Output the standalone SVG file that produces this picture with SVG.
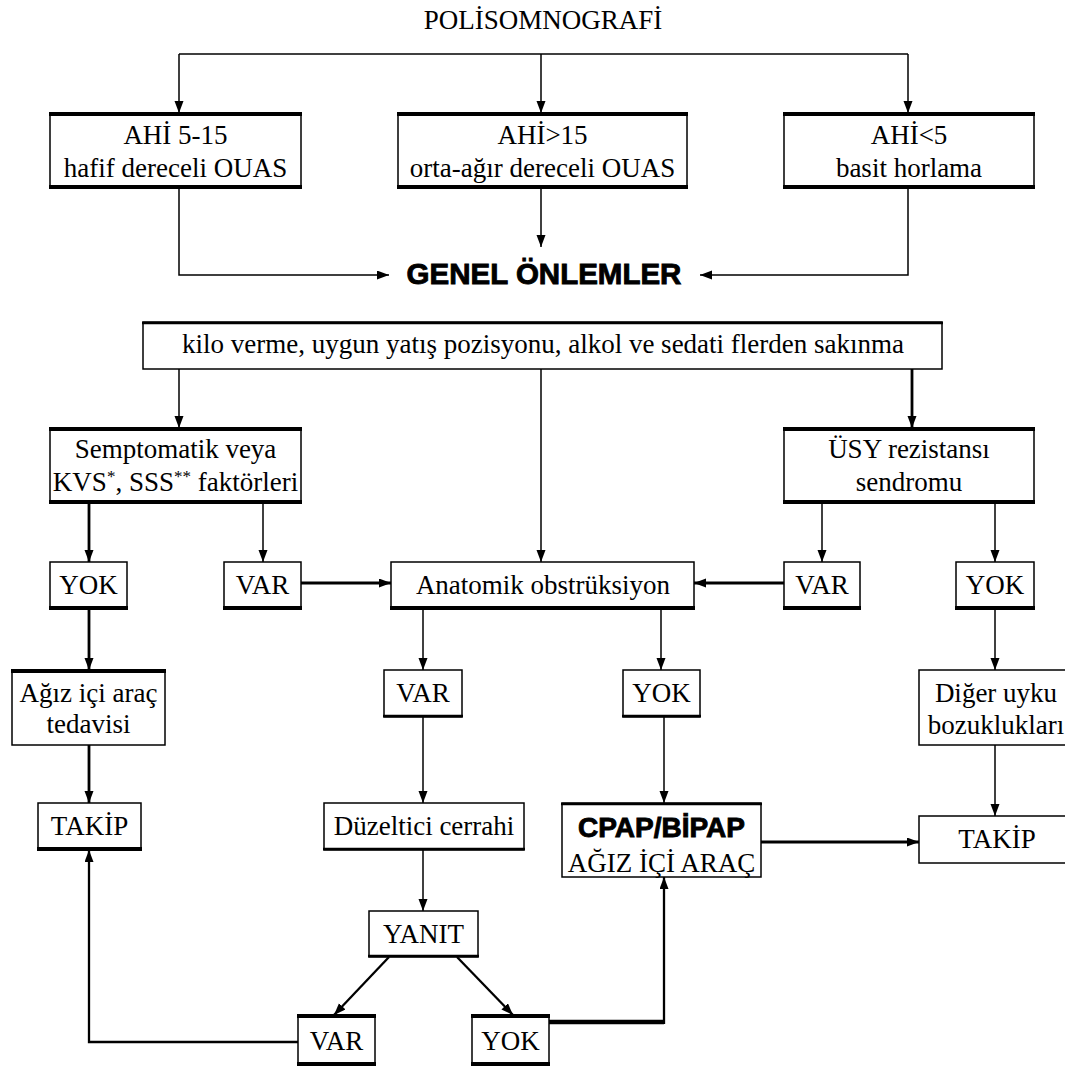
<svg xmlns="http://www.w3.org/2000/svg" width="1065" height="1068" viewBox="0 0 1065 1068">
<defs>
<marker id="ah" markerUnits="userSpaceOnUse" markerWidth="13" markerHeight="10" refX="12" refY="4.5" orient="auto">
<path d="M0,0 L12,4.5 L0,9 Z" fill="#000"/>
</marker>
</defs>
<style>
.bx{fill:#fff;stroke:#000;stroke-width:1.5}
.tb{stroke:#000;stroke-width:4}
.md{stroke:#000;stroke-width:2.5}
.t{font-family:"Liberation Serif","Times New Roman",serif;font-size:27px;fill:#000;text-anchor:middle}
.b{font-family:"Liberation Sans",Arial,sans-serif;font-weight:900;fill:#000;stroke:#000;stroke-width:0.9;text-anchor:middle}
.c{fill:none;stroke:#000;stroke-width:1.5}
.k{fill:none;stroke:#000;stroke-width:2.8}
.m{fill:none;stroke:#000;stroke-width:2.3}
.a{marker-end:url(#ah)}
</style>
<rect width="1065" height="1068" fill="#fff"/>

<g id="connectors">
<path class="c" d="M179,54 H908"/>
<path class="c a" d="M179,54 V113"/>
<path class="c a" d="M541,54 V113"/>
<path class="c a" d="M908,54 V113"/>
<path class="c a" d="M179,188 V275 H389"/>
<path class="c a" d="M908,188 V275 H700"/>
<path class="c a" d="M541,188 V247"/>
<path class="c a" d="M179,369 V428"/>
<path class="c a" d="M541,369 V562"/>
<path class="k a" d="M912,369 V428"/>
<path class="k a" d="M89,503 V562"/>
<path class="c a" d="M263,503 V562"/>
<path class="c a" d="M822,503 V562"/>
<path class="c a" d="M995,503 V562"/>
<path class="k a" d="M301,583 H391"/>
<path class="k a" d="M784,583 H694"/>
<path class="k a" d="M89,609 V670"/>
<path class="c a" d="M423,609 V670"/>
<path class="c a" d="M661,609 V670"/>
<path class="c a" d="M995,609 V670"/>
<path class="k a" d="M89,745 V803"/>
<path class="c a" d="M423,717 V803"/>
<path class="c a" d="M664,717 V803"/>
<path class="c a" d="M995,745 V816"/>
<path class="k a" d="M761,842 H919"/>
<path class="c a" d="M423,850 V911"/>
<path class="m a" d="M389,957 L334,1015"/>
<path class="m a" d="M457,957 L513,1015"/>
<path class="m a" d="M298,1042 H89 V850"/>
<path fill="none" stroke="#000" stroke-width="4.5" d="M549,1022 H664"/>
<path class="m a" d="M664,1024 V877"/>
</g>

<text class="t" x="543" y="29">POLİSOMNOGRAFİ</text>

<g id="n-ahi515">
<rect class="bx" x="50" y="113" width="251" height="75"/>
<line class="tb" x1="49" y1="114" x2="302" y2="114"/><line class="tb" x1="49" y1="187" x2="302" y2="187"/>
<text class="t" x="175.5" y="144">AHİ 5-15</text>
<text class="t" x="175.5" y="177">hafif dereceli OUAS</text>
</g>
<g id="n-ahi15">
<rect class="bx" x="398" y="113" width="289" height="75"/>
<line class="tb" x1="397" y1="114" x2="688" y2="114"/><line class="tb" x1="397" y1="187" x2="688" y2="187"/>
<text class="t" x="542.5" y="144">AHİ&gt;15</text>
<text class="t" x="542.5" y="177">orta-ağır dereceli OUAS</text>
</g>
<g id="n-ahi5">
<rect class="bx" x="784" y="113" width="250" height="75"/>
<line class="tb" x1="783" y1="114" x2="1035" y2="114"/><line class="tb" x1="783" y1="187" x2="1035" y2="187"/>
<text class="t" x="909" y="144">AHİ&lt;5</text>
<text class="t" x="909" y="177">basit horlama</text>
</g>

<g id="n-genel">
<text class="b" x="544" y="284" font-size="29.5">GENEL ÖNLEMLER</text>
</g>

<g id="n-kilo">
<rect class="bx" x="143" y="322" width="799" height="47"/>
<line class="md" x1="142" y1="323" x2="943" y2="323"/>
<text class="t" x="543" y="353">kilo verme, uygun yatış pozisyonu, alkol ve sedati flerden sakınma</text>
</g>

<g id="n-sempt">
<rect class="bx" x="50" y="428" width="251" height="75"/>
<line class="tb" x1="49" y1="429" x2="302" y2="429"/><line class="tb" x1="49" y1="502" x2="302" y2="502"/>
<text class="t" x="175.5" y="458">Semptomatik veya</text>
<text class="t" x="175.5" y="491">KVS<tspan font-size="17" dy="-9">*</tspan><tspan dy="9">, SSS</tspan><tspan font-size="17" dy="-9">**</tspan><tspan dy="9"> faktörleri</tspan></text>
</g>
<g id="n-usy">
<rect class="bx" x="784" y="428" width="250" height="75"/>
<line class="tb" x1="783" y1="429" x2="1035" y2="429"/><line class="tb" x1="783" y1="502" x2="1035" y2="502"/>
<text class="t" x="909" y="458">ÜSY rezistansı</text>
<text class="t" x="909" y="491">sendromu</text>
</g>

<g id="n-yok1">
<rect class="bx" x="50" y="562" width="77" height="47"/>
<line class="tb" x1="49" y1="608" x2="128" y2="608"/>
<text class="t" x="88.5" y="594">YOK</text>
</g>
<g id="n-var1">
<rect class="bx" x="224" y="562" width="77" height="47"/>
<line class="tb" x1="223" y1="608" x2="302" y2="608"/>
<text class="t" x="262.5" y="594">VAR</text>
</g>
<g id="n-anatomik">
<rect class="bx" x="391" y="562" width="303" height="47"/>
<line class="tb" x1="390" y1="608" x2="695" y2="608"/>
<text class="t" x="543" y="594">Anatomik obstrüksiyon</text>
</g>
<g id="n-var-r">
<rect class="bx" x="784" y="562" width="76" height="47"/>
<line class="tb" x1="783" y1="608" x2="861" y2="608"/>
<text class="t" x="822" y="594">VAR</text>
</g>
<g id="n-yok-r">
<rect class="bx" x="956" y="562" width="78" height="47"/>
<line class="tb" x1="955" y1="608" x2="1035" y2="608"/>
<text class="t" x="995" y="594">YOK</text>
</g>

<g id="n-agiz">
<rect class="bx" x="12" y="670" width="153" height="75"/>
<line class="tb" x1="11" y1="671" x2="166" y2="671"/>
<text class="t" x="88.5" y="702">Ağız içi araç</text>
<text class="t" x="88.5" y="733">tedavisi</text>
</g>
<g id="n-var2">
<rect class="bx" x="384" y="670" width="78" height="47"/>
<line class="md" x1="383" y1="716" x2="463" y2="716"/>
<text class="t" x="423" y="702">VAR</text>
</g>
<g id="n-yok2">
<rect class="bx" x="623" y="670" width="77" height="47"/>
<line class="md" x1="622" y1="716" x2="701" y2="716"/>
<text class="t" x="661.5" y="702">YOK</text>
</g>
<g id="n-diger">
<rect class="bx" x="919" y="670" width="155" height="75"/>
<text class="t" x="996" y="702">Diğer uyku</text>
<text class="t" x="996" y="734">bozuklukları</text>
</g>

<g id="n-takip1">
<rect class="bx" x="38" y="803" width="103" height="47"/>
<line class="tb" x1="37" y1="849" x2="142" y2="849"/>
<text class="t" x="89.5" y="835">TAKİP</text>
</g>
<g id="n-duzeltici">
<rect class="bx" x="324" y="803" width="200" height="47"/>
<line class="md" x1="323" y1="849" x2="525" y2="849"/>
<text class="t" x="424" y="835">Düzeltici cerrahi</text>
</g>
<g id="n-cpap">
<rect class="bx" x="562" y="803" width="199" height="74"/>
<line class="md" x1="561" y1="804" x2="762" y2="804"/>
<text class="b" x="661.5" y="837" font-size="28">CPAP/BİPAP</text>
<text class="t" x="661.5" y="872">AĞIZ İÇİ ARAÇ</text>
</g>
<g id="n-takip2">
<rect class="bx" x="919" y="816" width="155" height="47"/>
<text class="t" x="997" y="848">TAKİP</text>
</g>

<g id="n-yanit">
<rect class="bx" x="369" y="911" width="109" height="46"/>
<line class="md" x1="368" y1="956" x2="479" y2="956"/>
<text class="t" x="423.5" y="943">YANIT</text>
</g>
<g id="n-var3">
<rect class="bx" x="298" y="1015" width="77" height="50"/>
<line class="tb" x1="297" y1="1016" x2="376" y2="1016"/><line class="tb" x1="297" y1="1064" x2="376" y2="1064"/>
<text class="t" x="336.5" y="1050">VAR</text>
</g>
<g id="n-yok3">
<rect class="bx" x="472" y="1015" width="77" height="50"/>
<line class="tb" x1="471" y1="1016" x2="550" y2="1016"/><line class="tb" x1="471" y1="1064" x2="550" y2="1064"/>
<text class="t" x="510.5" y="1050">YOK</text>
</g>
</svg>
